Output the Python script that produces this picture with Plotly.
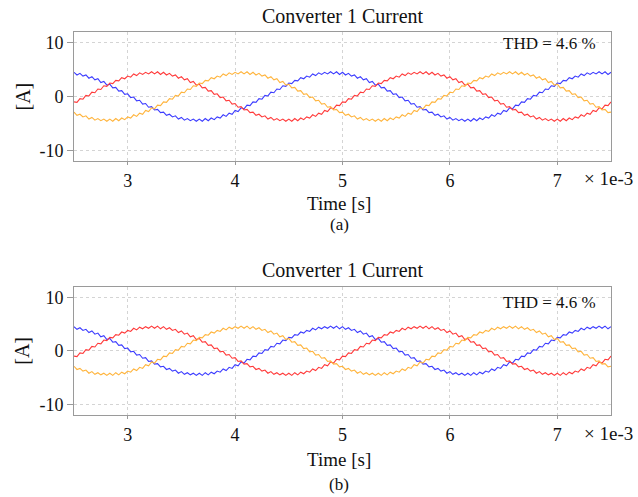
import plotly.graph_objects as go

# ---- data (time in ms, uniform sampling) ----
T_START_MS = 2.5
T_STEP_MS = 2.5 / 90
X_TICKS = [3, 4, 5, 6, 7]
Y_TICKS = [-10, 0, 10]
Y_TICK_LABELS = ["-10", "0", "10"]
X_RANGE = [2.5, 7.5]
Y_RANGE = [-12, 12]

# phase currents [A] (with switching ripple)
i_red = [
    -1.0, -1.1, -0.4, -0.5, 0.2, 0.1, 0.8, 0.7, 1.4, 1.3,
    2.0, 1.9, 2.5, 2.4, 3.0, 2.9, 3.5, 3.3, 3.8, 3.6,
    4.2, 3.9, 4.4, 4.1, 4.5, 4.2, 4.6, 4.2, 4.6, 4.1,
    4.5, 4.0, 4.3, 3.8, 4.0, 3.4, 3.7, 3.1, 3.3, 2.6,
    2.8, 2.1, 2.3, 1.6, 1.7, 1.0, 1.1, 0.4, 0.5, -0.2,
    -0.1, -0.8, -0.7, -1.4, -1.3, -2.0, -1.9, -2.5, -2.4, -3.0,
    -2.9, -3.5, -3.3, -3.8, -3.6, -4.2, -3.9, -4.4, -4.1, -4.5,
    -4.2, -4.6, -4.2, -4.6, -4.1, -4.5, -4.0, -4.3, -3.8, -4.0,
    -3.4, -3.7, -3.1, -3.3, -2.6, -2.8, -2.1, -2.3, -1.6, -1.7,
    -1.0, -1.1, -0.4, -0.5, 0.2, 0.1, 0.8, 0.7, 1.4, 1.3,
    2.0, 1.9, 2.5, 2.4, 3.0, 2.9, 3.5, 3.3, 3.8, 3.6,
    4.2, 3.9, 4.4, 4.1, 4.5, 4.2, 4.6, 4.2, 4.6, 4.1,
    4.5, 4.0, 4.3, 3.8, 4.0, 3.4, 3.7, 3.1, 3.3, 2.6,
    2.8, 2.1, 2.3, 1.6, 1.7, 1.0, 1.1, 0.4, 0.5, -0.2,
    -0.1, -0.8, -0.7, -1.4, -1.3, -2.0, -1.9, -2.5, -2.4, -3.0,
    -2.9, -3.5, -3.3, -3.8, -3.6, -4.2, -3.9, -4.4, -4.1, -4.5,
    -4.2, -4.6, -4.2, -4.6, -4.1, -4.5, -4.0, -4.3, -3.8, -4.0,
    -3.4, -3.7, -3.1, -3.3, -2.6, -2.8, -2.1, -2.3, -1.6, -1.7,
    -1.0,
]

i_blue = [
    4.5, 4.0, 4.3, 3.8, 4.0, 3.4, 3.7, 3.1, 3.3, 2.6,
    2.8, 2.1, 2.3, 1.6, 1.7, 1.0, 1.1, 0.4, 0.5, -0.2,
    -0.1, -0.8, -0.7, -1.4, -1.3, -2.0, -1.9, -2.5, -2.4, -3.0,
    -2.9, -3.5, -3.3, -3.8, -3.6, -4.2, -3.9, -4.4, -4.1, -4.5,
    -4.2, -4.6, -4.2, -4.6, -4.1, -4.5, -4.0, -4.3, -3.8, -4.0,
    -3.4, -3.7, -3.1, -3.3, -2.6, -2.8, -2.1, -2.3, -1.6, -1.7,
    -1.0, -1.1, -0.4, -0.5, 0.2, 0.1, 0.8, 0.7, 1.4, 1.3,
    2.0, 1.9, 2.5, 2.4, 3.0, 2.9, 3.5, 3.3, 3.8, 3.6,
    4.2, 3.9, 4.4, 4.1, 4.5, 4.2, 4.6, 4.2, 4.6, 4.1,
    4.5, 4.0, 4.3, 3.8, 4.0, 3.4, 3.7, 3.1, 3.3, 2.6,
    2.8, 2.1, 2.3, 1.6, 1.7, 1.0, 1.1, 0.4, 0.5, -0.2,
    -0.1, -0.8, -0.7, -1.4, -1.3, -2.0, -1.9, -2.5, -2.4, -3.0,
    -2.9, -3.5, -3.3, -3.8, -3.6, -4.2, -3.9, -4.4, -4.1, -4.5,
    -4.2, -4.6, -4.2, -4.6, -4.1, -4.5, -4.0, -4.3, -3.8, -4.0,
    -3.4, -3.7, -3.1, -3.3, -2.6, -2.8, -2.1, -2.3, -1.6, -1.7,
    -1.0, -1.1, -0.4, -0.5, 0.2, 0.1, 0.8, 0.7, 1.4, 1.3,
    2.0, 1.9, 2.5, 2.4, 3.0, 2.9, 3.5, 3.3, 3.8, 3.6,
    4.2, 3.9, 4.4, 4.1, 4.5, 4.2, 4.6, 4.2, 4.6, 4.1,
    4.5,
]

i_orange = [
    -2.9, -3.5, -3.3, -3.8, -3.6, -4.2, -3.9, -4.4, -4.1, -4.5,
    -4.2, -4.6, -4.2, -4.6, -4.1, -4.5, -4.0, -4.3, -3.8, -4.0,
    -3.4, -3.7, -3.1, -3.3, -2.6, -2.8, -2.1, -2.3, -1.6, -1.7,
    -1.0, -1.1, -0.4, -0.5, 0.2, 0.1, 0.8, 0.7, 1.4, 1.3,
    2.0, 1.9, 2.5, 2.4, 3.0, 2.9, 3.5, 3.3, 3.8, 3.6,
    4.2, 3.9, 4.4, 4.1, 4.5, 4.2, 4.6, 4.2, 4.6, 4.1,
    4.5, 4.0, 4.3, 3.8, 4.0, 3.4, 3.7, 3.1, 3.3, 2.6,
    2.8, 2.1, 2.3, 1.6, 1.7, 1.0, 1.1, 0.4, 0.5, -0.2,
    -0.1, -0.8, -0.7, -1.4, -1.3, -2.0, -1.9, -2.5, -2.4, -3.0,
    -2.9, -3.5, -3.3, -3.8, -3.6, -4.2, -3.9, -4.4, -4.1, -4.5,
    -4.2, -4.6, -4.2, -4.6, -4.1, -4.5, -4.0, -4.3, -3.8, -4.0,
    -3.4, -3.7, -3.1, -3.3, -2.6, -2.8, -2.1, -2.3, -1.6, -1.7,
    -1.0, -1.1, -0.4, -0.5, 0.2, 0.1, 0.8, 0.7, 1.4, 1.3,
    2.0, 1.9, 2.5, 2.4, 3.0, 2.9, 3.5, 3.3, 3.8, 3.6,
    4.2, 3.9, 4.4, 4.1, 4.5, 4.2, 4.6, 4.2, 4.6, 4.1,
    4.5, 4.0, 4.3, 3.8, 4.0, 3.4, 3.7, 3.1, 3.3, 2.6,
    2.8, 2.1, 2.3, 1.6, 1.7, 1.0, 1.1, 0.4, 0.5, -0.2,
    -0.1, -0.8, -0.7, -1.4, -1.3, -2.0, -1.9, -2.5, -2.4, -3.0,
    -2.9,
]

TITLE = "Converter 1 Current"
THD_TEXT = "THD = 4.6 %"
X_TITLE = "Time [s]"
Y_TITLE = "[A]"
X_EXP = "× 1e-3"
PANEL_LABELS = ["(a)", "(b)"]

# ---- layout helpers ----
W, H = 638, 497
FONT = "Liberation Serif"
RED, BLUE, ORANGE = "#ff3a3a", "#3c3cff", "#ffb43c"


def px(x):
    return x / W


def py(y):
    return 1 - y / H


panels = [
    dict(top=32, bottom=161, title_y=16, thd_y=43.5, exp_y=178.5, xt_y=203, lab_y=224),
    dict(top=286.5, bottom=415, title_y=270, thd_y=302.5, exp_y=433.5, xt_y=459, lab_y=484),
]
X_LEFT, X_RIGHT = 74, 611

fig = go.Figure()
annotations = []
for n, p in enumerate(panels):
    sfx = "" if n == 0 else str(n + 1)
    xa, ya = "x" + sfx, "y" + sfx
    for vals, col in ((i_blue, BLUE), (i_red, RED), (i_orange, ORANGE)):
        fig.add_trace(go.Scatter(
            y=vals, x0=T_START_MS, dx=T_STEP_MS, mode="lines",
            line=dict(color=col, width=1.1), xaxis=xa, yaxis=ya,
            showlegend=False, hoverinfo="skip",
        ))
    axis_common = dict(
        showline=True, mirror=True, linecolor="#9a9a9a", linewidth=1,
        showgrid=True, gridcolor="#d4d4d4", griddash="dot", gridwidth=1,
        zeroline=False, ticks="outside", tickcolor="#9a9a9a",
        tickfont=dict(family=FONT, size=18, color="#111"),
    )
    fig.update_layout(**{
        ("xaxis" + sfx): dict(
            domain=[px(X_LEFT), px(X_RIGHT)], range=X_RANGE, tickvals=X_TICKS,
            ticklen=3, anchor=ya, **axis_common),
        ("yaxis" + sfx): dict(
            domain=[py(p["bottom"]), py(p["top"])], range=Y_RANGE, tickvals=Y_TICKS,
            ticktext=Y_TICK_LABELS, ticklen=6, anchor=xa, **axis_common),
    })
    annotations += [
        dict(text=TITLE, x=px((X_LEFT + X_RIGHT) / 2), y=py(p["title_y"]),
             font=dict(size=20)),
        dict(text=THD_TEXT, x=px(598), y=py(p["thd_y"]), xanchor="right",
             font=dict(size=17)),
        dict(text=X_EXP, x=px(608), y=py(p["exp_y"]), font=dict(size=19)),
        dict(text=X_TITLE, x=px(339), y=py(p["xt_y"]), font=dict(size=19)),
        dict(text=PANEL_LABELS[n], x=px(339), y=py(p["lab_y"]), font=dict(size=17)),
        dict(text=Y_TITLE, x=px(22), y=py((p["top"] + p["bottom"]) / 2),
             textangle=-90, font=dict(size=20)),
    ]

for a in annotations:
    a.update(xref="paper", yref="paper", showarrow=False)
    a.setdefault("xanchor", "center")
    a["yanchor"] = "middle"
    a["font"].update(family=FONT, color="#111")

fig.update_layout(
    width=W, height=H, margin=dict(l=0, r=0, t=0, b=0),
    paper_bgcolor="white", plot_bgcolor="white",
    annotations=annotations,
)

fig.write_html("out.html")
